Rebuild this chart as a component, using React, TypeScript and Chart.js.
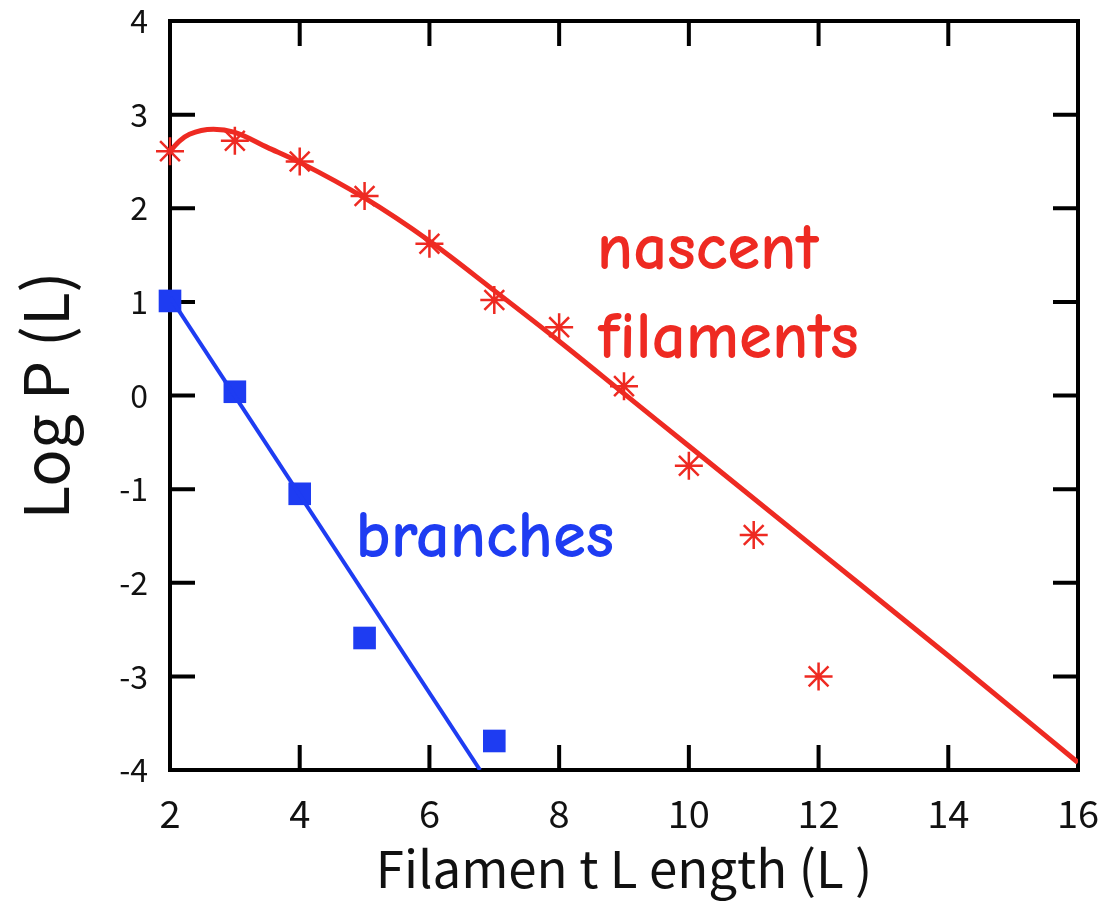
import { useEffect, useRef } from "react";
import { Chart, registerables } from "chart.js";

Chart.register(...registerables);

const nascentX = [2, 3, 4, 5, 6, 7, 8, 9, 10, 11, 12];
const nascentY = [2.61, 2.72, 2.5, 2.13, 1.62, 1.02, 0.73, 0.1, -0.75, -1.49, -3.0];
const branchX = [2, 3, 4, 5, 7];
const branchY = [1.01, 0.04, -1.05, -2.59, -3.69];

// Fitted curves
const nascentFitX = [2, 2.15, 2.3, 2.67, 3, 3.5, 4, 5, 6, 7, 8, 9, 10, 12, 14, 16];
const nascentFitY = [2.61, 2.72, 2.79, 2.845, 2.81, 2.65, 2.49, 2.11, 1.65, 1.12, 0.58, 0.02, -0.54, -1.66, -2.78, -3.92];
const branchFitX = [2, 6.78];
const branchFitY = [1.05, -4.0];

// Axis ticks
const xTickValues = [2, 4, 6, 8, 10, 12, 14, 16];
const yTickValues = [-4, -3, -2, -1, 0, 1, 2, 3, 4];

const xTitle = "Filamen t L ength (L )";
const yTitle = "Log P (L)";

const RED = "#ee2a22";
const BLUE = "#1e3cf2";

const labelFont = "'Noto Sans CJK JP', 'Noto Sans', sans-serif";
const annoFont = "'Comic Sans MS', 'Comic Neue', 'Noto Sans', sans-serif";

const toPts = (xs: number[], ys: number[]) => xs.map((x, i) => ({ x, y: ys[i] }));

const framePlugin = {
  id: "frame",
  beforeDatasetsDraw(chart: any) {
    const { ctx, chartArea: a, scales } = chart;
    const x = scales.x;
    const y = scales.y;
    ctx.save();
    ctx.strokeStyle = "#000";
    ctx.lineWidth = 4;
    ctx.strokeRect(a.left, a.top, a.right - a.left, a.bottom - a.top);
    const L = 25;
    ctx.beginPath();
    x.ticks.forEach((t: any) => {
      const px = x.getPixelForValue(t.value);
      if (px <= a.left + 2 || px >= a.right - 2) return;
      ctx.moveTo(px, a.bottom);
      ctx.lineTo(px, a.bottom - L);
      ctx.moveTo(px, a.top);
      ctx.lineTo(px, a.top + L);
    });
    y.ticks.forEach((t: any) => {
      const py = y.getPixelForValue(t.value);
      if (py <= a.top + 2 || py >= a.bottom - 2) return;
      ctx.moveTo(a.left, py);
      ctx.lineTo(a.left + L, py);
      ctx.moveTo(a.right, py);
      ctx.lineTo(a.right - L, py);
    });
    ctx.stroke();
    ctx.restore();
  },
  afterDatasetsDraw(chart: any) {
    const { ctx, scales } = chart;
    const x = scales.x;
    const y = scales.y;
    ctx.save();
    ctx.textAlign = "left";
    ctx.textBaseline = "alphabetic";
    ctx.font = `600 67px ${annoFont}`;
    ctx.fillStyle = RED;
    ctx.fillText("nascent", x.getPixelForValue(8.58), y.getPixelForValue(1.35));
    ctx.fillText("filaments", x.getPixelForValue(8.6), y.getPixelForValue(0.4));
    ctx.fillStyle = BLUE;
    ctx.fillText("branches", x.getPixelForValue(4.86), y.getPixelForValue(-1.73));
    ctx.restore();
  },
};

export default function App() {
  const ref = useRef<HTMLCanvasElement | null>(null);
  useEffect(() => {
    if (!ref.current) return;
    const chart = new Chart(ref.current, {
      type: "scatter",
      data: {
        datasets: [
          {
            label: "nascent fit",
            data: toPts(nascentFitX, nascentFitY),
            showLine: true,
            borderColor: RED,
            borderWidth: 5,
            pointRadius: 0,
            cubicInterpolationMode: "monotone",
            fill: false,
          },
          {
            label: "branch fit",
            data: toPts(branchFitX, branchFitY),
            showLine: true,
            borderColor: BLUE,
            borderWidth: 4,
            pointRadius: 0,
            fill: false,
          },
          {
            label: "nascent filaments",
            data: toPts(nascentX, nascentY),
            pointStyle: "star",
            pointRadius: 14,
            borderColor: RED,
            backgroundColor: RED,
            pointBorderWidth: 2.5,
            clip: false,
          } as any,
          {
            label: "branches",
            data: toPts(branchX, branchY),
            pointStyle: "rect",
            pointRadius: 16,
            borderColor: BLUE,
            backgroundColor: BLUE,
            pointBorderWidth: 0,
            clip: false,
          } as any,
        ],
      },
      options: {
        animation: false,
        responsive: false,
        layout: { padding: { top: 21, right: 40, left: 0, bottom: 0 } },
        plugins: { legend: { display: false }, tooltip: { enabled: false } },
        scales: {
          x: {
            type: "linear",
            min: 2,
            max: 16,
            afterFit: (s: any) => {
              s.height = 132;
              s.paddingLeft = 0;
              s.paddingRight = 0;
            },
            afterBuildTicks: (s: any) => {
              s.ticks = xTickValues.map((v) => ({ value: v }));
            },
            grid: { display: false, drawTicks: false },
            border: { display: false },
            ticks: {
              color: "#111",
              padding: 21,
              maxRotation: 0,
              font: { family: labelFont, size: 38 },
            },
            title: {
              display: true,
              text: xTitle,
              color: "#111",
              font: { family: labelFont, size: 51, lineHeight: 1 },
              padding: { top: 0, bottom: 8 },
            },
          },
          y: {
            type: "linear",
            min: -4,
            max: 4,
            afterFit: (s: any) => {
              s.width = 170;
              s.paddingTop = 0;
              s.paddingBottom = 0;
            },
            afterBuildTicks: (s: any) => {
              s.ticks = yTickValues.map((v) => ({ value: v }));
            },
            grid: { display: false, drawTicks: false },
            border: { display: false },
            ticks: {
              color: "#111",
              padding: 22,
              font: { family: labelFont, size: 32 },
            },
            title: {
              display: true,
              text: yTitle,
              color: "#111",
              font: { family: labelFont, size: 62, lineHeight: 1 },
              padding: { top: 14, bottom: 0 },
            },
          },
        },
      },
      plugins: [framePlugin],
    });
    return () => chart.destroy();
  }, []);
  return (
    <div style={{ position: "absolute", left: 0, top: 0, width: 1118, height: 902, background: "#fff" }}>
      <canvas ref={ref} width={1118} height={902} style={{ display: "block" }} />
    </div>
  );
}
